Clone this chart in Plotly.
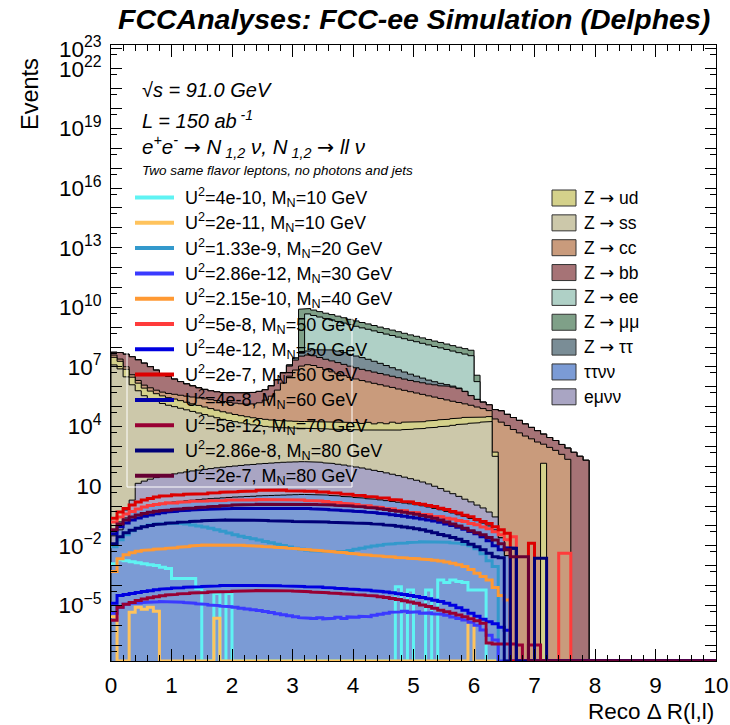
import numpy as np
import plotly.graph_objects as go

# ---------------------------------------------------------------------------
# Binning of Reco ΔR(l,l): 100 bins of width 0.1 between 0 and 10
# ---------------------------------------------------------------------------
N_BINS = 100
EDGES = np.round(np.linspace(0.0, 10.0, N_BINS + 1), 1)
Y_LOG_MIN, Y_LOG_MAX = -7.8, 23.2
FILL_FLOOR = 1e-12
FONT = "Liberation Sans, Arial, Helvetica, sans-serif"
ARROW = "<span style='font-family:DejaVu Sans'>→</span>"

# ---------------------------------------------------------------------------
# Background processes, log10(events) per bin (bins 0.0-8.0), None = empty
# ---------------------------------------------------------------------------
N = None
ttnn = [-1.9, -1.2, -0.6, -0.3, -0.15, -0.05, 0.02, 0.08, 0.13, 0.17,
        0.2, 0.23, 0.26, 0.29, 0.32, 0.35, 0.37, 0.39, 0.41, 0.43,
        0.45, 0.46, 0.48, 0.49, 0.51, 0.52, 0.53, 0.54, 0.55, 0.56,
        0.57, 0.58, 0.58, 0.58, 0.57, 0.55, 0.53, 0.51, 0.48, 0.46,
        0.43, 0.4, 0.37, 0.34, 0.31, 0.27, 0.23, 0.19, 0.15, 0.11,
        0.06, 0.01, -0.05, -0.12, -0.19, -0.27, -0.35, -0.44, -0.53, -0.63,
        -0.74, -0.86, -1.0, -1.2, -1.6, -2.5, N, N, N, N,
        N, N, N, N, N, N, N, N, N, N]
emnn = [-1.72, -1.02, -0.42, 0.17, 1.12, 1.23, 1.33, 1.41, 1.48, 1.54,
        1.6, 1.65, 1.7, 1.75, 1.79, 1.83, 1.87, 1.91, 1.94, 1.97,
        2.0, 2.03, 2.06, 2.08, 2.11, 2.13, 2.15, 2.17, 2.19, 2.2,
        2.21, 2.22, 2.22, 2.21, 2.19, 2.16, 2.13, 2.09, 2.05, 2.0,
        1.95, 1.9, 1.84, 1.78, 1.72, 1.65, 1.58, 1.51, 1.43, 1.35,
        1.27, 1.18, 1.08, 0.96, 0.84, 0.7, 0.57, 0.43, 0.28, 0.14,
        -0.03, -0.18, -0.4, -0.66, N, N, N, N, N, N,
        N, N, N, N, N, N, N, N, N, N]
zss = [7.1, 6.9, 6.5, 6.1, 5.8, 5.55, 5.4, 5.27, 5.16, 5.07,
       5.0, 4.92, 4.84, 4.76, 4.68, 4.6, 4.52, 4.44, 4.36, 4.3,
       4.24, 4.18, 4.13, 4.08, 4.04, 4.0, 3.97, 3.95, 3.93, 3.92,
       3.91, 3.9, 3.9, 3.89, 3.88, 3.87, 3.86, 3.85, 3.84, 3.83,
       3.83, 3.82, 3.82, 3.81, 3.81, 3.8, 3.81, 3.82, 3.84, 3.86,
       3.88, 3.9, 3.93, 3.96, 3.99, 4.02, 4.06, 4.1, 4.13, 4.16,
       4.19, 4.22, 4.25, 2.5, N, N, N, N, N, N,
       N, N, N, N, N, N, N, N, N, N]
zud = [7.25, 7.05, 6.65, 6.25, 5.95, 5.7, 5.55, 5.42, 5.31, 5.22,
       5.15, 5.07, 4.99, 4.91, 4.83, 4.75, 4.67, 4.59, 4.51, 4.44,
       4.36, 4.3, 4.24, 4.19, 4.15, 4.11, 4.07, 4.05, 4.03, 4.02,
       4.0, 3.99, 3.98, 3.97, 3.97, 3.96, 3.95, 3.94, 3.93, 3.92,
       3.95, 3.88, 3.98, 3.85, 3.95, 3.87, 4.0, 3.9, 3.98, 3.96,
       4.0, 3.98, 4.02, 4.06, 4.08, 4.1, 4.12, 4.15, 4.18, 4.2,
       4.1, 4.12, 4.14, 2.3, N, N, N, N, N, N,
       N, 2.15, N, N, N, N, N, N, N, N]
zcc = [6.95, 6.75, 6.4, 6.0, 5.75, 5.55, 5.45, 5.35, 5.28, 5.25,
       5.25, 5.24, 5.23, 5.22, 5.2, 5.18, 5.16, 5.13, 5.1, 5.07,
       5.04, 5.02, 5.01, 5.04, 5.12, 5.28, 5.5, 5.82, 6.18, 6.53,
       6.84, 7.04, 7.11, 7.07, 6.97, 6.86, 6.75, 6.65, 6.56, 6.47,
       6.39, 6.31, 6.24, 6.17, 6.1, 6.03, 5.96, 5.88, 5.81, 5.74,
       5.67, 5.6, 5.52, 5.45, 5.37, 5.29, 5.21, 5.13, 5.04, 4.94,
       4.83, 4.7, 4.5, 4.37, 4.22, 4.05, 3.85, 3.68, 3.52, 3.38,
       3.22, 3.06, 2.95, 2.8, 2.6, 2.35, N, N, N, N]
zbb = [7.17, 7.45, 7.52, 7.45, 7.31, 7.15, 6.97, 6.79, 6.61, 6.45,
       6.3, 6.16, 6.02, 5.9, 5.78, 5.69, 5.6, 5.55, 5.52, 5.52,
       5.53, 5.54, 5.55, 5.58, 5.63, 5.69, 5.88, 6.18, 6.53, 6.88,
       7.18, 7.38, 7.43, 7.39, 7.31, 7.23, 7.16, 7.08, 6.99, 6.9,
       6.82, 6.74, 6.67, 6.6, 6.53, 6.46, 6.39, 6.32, 6.25, 6.18,
       6.12, 6.07, 6.01, 5.98, 5.94, 5.93, 5.89, 5.81, 5.64, 5.38,
       5.13, 4.94, 4.78, 4.67, 4.65, 4.47, 4.33, 4.19, 4.0, 3.82,
       3.65, 3.45, 3.28, 3.13, 2.93, 2.77, 2.7, 2.5, 2.3, N]
ztautau = [N, N, N, N, N, N, N, N, N, N,
           N, N, N, N, N, N, N, N, N, N,
           N, N, N, N, N, 4.0, 4.4, 4.9, 5.5, 6.14,
           6.76, 7.16, 7.37, 7.56, 7.66, 7.72, 7.71, 7.66, 7.59, 7.5,
           7.42, 7.34, 7.25, 7.14, 7.02, 6.89, 6.76, 6.63, 6.49, 6.35,
           6.21, 6.06, 5.9, 5.73, 5.56, 5.33, 5.07, 4.75, 4.3, 3.9,
           3.5, 3.1, N, N, N, N, N, N, N, N,
           N, N, N, N, N, N, N, N, N, N]
zee = [N, N, N, N, N, N, N, N, N, N,
       N, N, N, N, N, N, N, N, N, N,
       N, N, N, N, N, N, N, N, N, N,
       N, 7.0, 9.66, 9.58, 9.5, 9.42, 9.35, 9.27, 9.19, 9.11,
       9.03, 8.95, 8.88, 8.8, 8.72, 8.64, 8.57, 8.49, 8.41, 8.33,
       8.26, 8.18, 8.1, 8.02, 7.95, 7.87, 7.79, 7.71, 7.64, 7.56,
       6.2, N, N, N, N, N, N, N, N, N,
       N, N, N, N, N, N, N, N, N, N]
zmumu = [N, N, N, N, N, N, N, N, N, N,
         N, N, N, N, N, N, N, N, N, N,
         N, N, N, N, N, N, N, N, N, N,
         N, 9.9, 9.61, 9.53, 9.45, 9.37, 9.3, 9.22, 9.14, 9.06,
         8.98, 8.9, 8.83, 8.75, 8.67, 8.59, 8.52, 8.44, 8.36, 8.28,
         8.21, 8.13, 8.05, 7.97, 7.9, 7.82, 7.74, 7.66, 7.59, 7.51,
         6.3, N, N, N, N, N, N, N, N, N,
         N, N, N, N, N, N, N, N, N, N]

# Stack order, bottom to top: (label, values, fill colour)
STACK = [
    ("ττνν", ttnn, "#7b9bd5"),
    ("eμνν", emnn, "#a9a5c3"),
    ("Z → ss", zss, "#ccc8aa"),
    ("Z → ud", zud, "#d4d18b"),
    ("Z → cc", zcc, "#c99b7c"),
    ("Z → bb", zbb, "#a67376"),
    ("Z → ττ", ztautau, "#7a8d96"),
    ("Z → ee", zee, "#afd0c6"),
    ("Z → μμ", zmumu, "#7fa088"),
]
BKG_LEGEND_ORDER = ["Z → ud", "Z → ss", "Z → cc", "Z → bb", "Z → ee",
                    "Z → μμ", "Z → ττ", "ττνν", "eμνν"]

# ---------------------------------------------------------------------------
# Heavy neutral lepton signals, log10(events) per bin (bins 0.0-8.0)
# ---------------------------------------------------------------------------
sig_4e10_m10 = [-2.9, -2.7, -2.75, -2.8, -2.85, -2.9, -2.95, -3.0, -3.08, -3.15,
                -3.65, -3.65, -3.62, -3.65, -4.15, N, N, -4.4, N, -4.4,
                N, N, N, N, N, N, N, N, N, N,
                N, N, N, N, N, N, N, N, N, N,
                N, N, N, N, N, N, N, -4.06, N, -4.23,
                N, N, -4.23, N, -3.72, -3.85, -3.72, -3.8, -3.85, -4.23,
                -4.23, -4.23, N, N, N, N, N, N, N, N,
                N, N, N, N, N, N, N, N, N, N]
sig_2e11_m10 = [-5.57, N, N, -5.35, -5.1, -5.2, -5.1, -5.3, N, N,
                N, N, N, N, N, N, N, -5.65, N, N,
                N, N, N, N, N, N, N, N, N, N,
                N, N, N, N, N, N, N, N, N, N,
                N, N, N, N, N, N, N, N, N, N,
                N, N, N, N, N, N, N, N, N, -5.65,
                N, N, N, N, N, N, N, N, N, N,
                N, N, N, N, N, N, N, N, N, N]
sig_133e9_m20 = [-2.05, -1.7, -1.45, -1.25, -1.12, -1.03, -0.96, -0.92, -0.89, -0.87,
                 -0.87, -0.88, -0.91, -0.95, -1.0, -1.06, -1.12, -1.19, -1.27, -1.36,
                 -1.45, -1.52, -1.59, -1.65, -1.71, -1.78, -1.85, -1.92, -1.99, -2.06,
                 -2.12, -2.17, -2.21, -2.25, -2.27, -2.29, -2.3, -2.3, -2.28, -2.24,
                 -2.18, -2.12, -2.06, -2.01, -1.97, -1.93, -1.9, -1.88, -1.86, -1.84,
                 -1.82, -1.8, -1.79, -1.79, -1.8, -1.82, -1.85, -1.88, -1.93, -2.0,
                 -2.15, -2.4, -2.75, -3.05, N, N, N, N, N, N,
                 N, N, N, N, N, N, N, N, N, N]
sig_286e12_m30 = [-5.4, -5.1, -4.95, -4.9, -4.88, -4.85, -4.83, -4.82, -4.81, -4.81,
                  -4.82, -4.84, -4.86, -4.89, -4.92, -4.95, -4.98, -5.01, -5.04, -5.07,
                  -5.1, -5.14, -5.18, -5.22, -5.26, -5.31, -5.36, -5.42, -5.47, -5.52,
                  -5.57, -5.62, -5.65, -5.66, -5.62, -5.68, -5.65, -5.6, -5.66, -5.58,
                  -5.6, -5.55, -5.57, -5.5, -5.45, -5.4, -5.35, -5.33, -5.3, -5.35,
                  -5.32, -5.4, -5.38, -5.42, -5.45, -5.5, -5.58, -5.66, -5.74, -5.85,
                  -6.0, -6.24, -6.5, -6.74, N, N, N, N, N, N,
                  N, N, N, N, N, N, N, N, N, N]
sig_215e10_m40 = [-3.3, -2.65, -2.45, -2.35, -2.28, -2.23, -2.2, -2.17, -2.15, -2.13,
                  -2.1, -2.07, -2.04, -2.01, -1.98, -1.96, -1.96, -1.95, -1.95, -1.96,
                  -1.96, -1.97, -1.99, -2.0, -2.02, -2.04, -2.06, -2.08, -2.1, -2.12,
                  -2.15, -2.17, -2.2, -2.22, -2.25, -2.27, -2.3, -2.32, -2.35, -2.38,
                  -2.41, -2.44, -2.47, -2.49, -2.52, -2.54, -2.56, -2.59, -2.61, -2.63,
                  -2.65, -2.67, -2.7, -2.73, -2.77, -2.82, -2.88, -2.95, -3.05, -3.2,
                  -3.38, -3.55, -3.72, -4.1, -4.5, -4.73, N, N, N, N,
                  N, N, N, N, N, N, N, N, N, N]
sig_5e8_m50 = [-0.8, -0.55, -0.4, -0.28, -0.15, -0.05, 0.02, 0.07, 0.11, 0.16,
               0.15, 0.19, 0.21, 0.24, 0.22, 0.25, 0.27, 0.26, 0.28, 0.3,
               0.29, 0.31, 0.32, 0.3, 0.33, 0.33, 0.31, 0.32, 0.33, 0.3,
               0.31, 0.3, 0.28, 0.28, 0.25, 0.23, 0.19, 0.18, 0.14, 0.11,
               0.08, 0.03, 0.01, -0.04, -0.07, -0.13, -0.15, -0.21, -0.24, -0.31,
               -0.34, -0.41, -0.44, -0.51, -0.54, -0.61, -0.65, -0.73, -0.78, -0.88,
               -0.94, -1.06, -1.14, -1.3, -1.45, -1.7, -1.55, N, N, N,
               N, N, N, N, -2.38, -2.38, N, N, N, N]
sig_4e12_m50 = [-4.9, -4.5, -4.45, -4.4, -4.35, -4.3, -4.26, -4.22, -4.18, -4.15,
                -4.13, -4.11, -4.09, -4.07, -4.06, -4.05, -4.03, -4.02, -4.0, -3.99,
                -3.98, -3.98, -3.98, -3.99, -3.99, -4.0, -4.0, -4.01, -4.02, -4.03,
                -4.04, -4.05, -4.06, -4.07, -4.08, -4.1, -4.12, -4.14, -4.16, -4.18,
                -4.2, -4.22, -4.24, -4.27, -4.3, -4.33, -4.37, -4.41, -4.45, -4.5,
                -4.55, -4.61, -4.67, -4.74, -4.81, -4.9, -5.0, -5.12, -5.25, -5.4,
                -5.55, -5.7, -5.82, -5.92, -6.1, -6.25, N, N, N, N,
                N, N, N, N, N, N, N, N, N, N]
sig_2e7_m60 = [-0.62, -0.3, -0.12, 0.05, 0.2, 0.3, 0.38, 0.45, 0.5, 0.51,
               0.56, 0.55, 0.59, 0.6, 0.62, 0.62, 0.65, 0.66, 0.69, 0.69,
               0.72, 0.73, 0.75, 0.75, 0.79, 0.8, 0.81, 0.79, 0.8, 0.77,
               0.78, 0.76, 0.74, 0.74, 0.7, 0.7, 0.66, 0.65, 0.6, 0.59,
               0.54, 0.53, 0.48, 0.46, 0.41, 0.4, 0.33, 0.3, 0.23, 0.2,
               0.13, 0.09, 0.02, -0.02, -0.11, -0.17, -0.28, -0.35, -0.46, -0.54,
               -0.68, -0.78, -0.88, -1.04, -1.2, -1.37, N, N, N, -1.88,
               N, N, N, N, N, N, N, N, N, N]
sig_4e8_m60 = [-1.4, -1.05, -0.85, -0.7, -0.6, -0.52, -0.45, -0.39, -0.34, -0.3,
               -0.27, -0.24, -0.22, -0.2, -0.18, -0.17, -0.16, -0.15, -0.14, -0.13,
               -0.12, -0.12, -0.11, -0.11, -0.1, -0.1, -0.1, -0.11, -0.11, -0.12,
               -0.12, -0.12, -0.13, -0.14, -0.15, -0.17, -0.19, -0.21, -0.23, -0.25,
               -0.27, -0.29, -0.31, -0.34, -0.37, -0.4, -0.44, -0.48, -0.52, -0.56,
               -0.6, -0.65, -0.7, -0.76, -0.82, -0.9, -0.98, -1.07, -1.17, -1.28,
               -1.4, -1.55, -1.75, -2.0, -2.2, -2.1, -2.13, N, N, N,
               N, N, N, N, N, N, N, N, N, N]
sig_5e12_m70 = [-5.75, -5.1, -4.95, -4.85, -4.76, -4.68, -4.62, -4.57, -4.52, -4.48,
                -4.45, -4.42, -4.4, -4.38, -4.36, -4.35, -4.33, -4.32, -4.31, -4.3,
                -4.29, -4.28, -4.27, -4.26, -4.25, -4.24, -4.24, -4.25, -4.26, -4.27,
                -4.28, -4.3, -4.31, -4.33, -4.34, -4.36, -4.38, -4.4, -4.42, -4.44,
                -4.46, -4.48, -4.5, -4.53, -4.57, -4.61, -4.66, -4.71, -4.77, -4.83,
                -4.9, -4.98, -5.06, -5.15, -5.24, -5.32, -5.4, -5.48, -5.57, -5.67,
                -5.78, -5.9, -6.9, -6.94, -6.94, -6.94, -6.94, -7.0, N, -7.0,
                -7.0, N, N, N, N, N, N, N, N, N]
sig_286e8_m80 = [-1.9, -1.55, -1.35, -1.22, -1.12, -1.04, -0.98, -0.93, -0.9, -0.87,
                 -0.84, -0.82, -0.8, -0.78, -0.76, -0.74, -0.73, -0.72, -0.71, -0.7,
                 -0.7, -0.7, -0.71, -0.72, -0.72, -0.73, -0.74, -0.75, -0.76, -0.77,
                 -0.78, -0.79, -0.79, -0.8, -0.8, -0.81, -0.82, -0.83, -0.84, -0.85,
                 -0.86, -0.87, -0.88, -0.9, -0.92, -0.95, -0.98, -1.02, -1.06, -1.1,
                 -1.15, -1.2, -1.27, -1.35, -1.43, -1.5, -1.58, -1.67, -1.79, -1.92,
                 -2.05, -2.2, -2.38, -2.55, -2.6, N, -2.13, N, N, N,
                 -2.63, -2.63, N, N, N, N, N, N, N, N]
sig_2e7_m80 = [-1.2, -0.9, -0.7, -0.55, -0.45, -0.38, -0.32, -0.27, -0.23, -0.2,
               -0.17, -0.14, -0.12, -0.1, -0.07, -0.05, -0.03, -0.01, 0.01, 0.03,
               0.05, 0.06, 0.07, 0.08, 0.09, 0.1, 0.1, 0.11, 0.1, 0.1,
               0.1, 0.1, 0.09, 0.08, 0.07, 0.06, 0.05, 0.03, 0.02, 0.0,
               -0.02, -0.04, -0.07, -0.1, -0.14, -0.18, -0.22, -0.27, -0.32, -0.37,
               -0.42, -0.48, -0.54, -0.62, -0.7, -0.8, -0.9, -1.0, -1.12, -1.25,
               -1.35, -1.45, -1.58, -1.71, -1.9, -2.2, -2.55, -2.55, -2.55, N,
               N, N, N, N, N, N, N, N, N, N]

# Drawing order = legend order: (label, values, line colour)
SIGNALS = [
    ("U<sup>2</sup>=4e-10, M<sub>N</sub>=10 GeV", sig_4e10_m10, "#5ff3f3"),
    ("U<sup>2</sup>=2e-11, M<sub>N</sub>=10 GeV", sig_2e11_m10, "#ffc35c"),
    ("U<sup>2</sup>=1.33e-9, M<sub>N</sub>=20 GeV", sig_133e9_m20, "#3399cc"),
    ("U<sup>2</sup>=2.86e-12, M<sub>N</sub>=30 GeV", sig_286e12_m30, "#3a3aff"),
    ("U<sup>2</sup>=2.15e-10, M<sub>N</sub>=40 GeV", sig_215e10_m40, "#ff9933"),
    ("U<sup>2</sup>=5e-8, M<sub>N</sub>=50 GeV", sig_5e8_m50, "#ff3b3b"),
    ("U<sup>2</sup>=4e-12, M<sub>N</sub>=50 GeV", sig_4e12_m50, "#0000e0"),
    ("U<sup>2</sup>=2e-7, M<sub>N</sub>=60 GeV", sig_2e7_m60, "#dd0000"),
    ("U<sup>2</sup>=4e-8, M<sub>N</sub>=60 GeV", sig_4e8_m60, "#0000aa"),
    ("U<sup>2</sup>=5e-12, M<sub>N</sub>=70 GeV", sig_5e12_m70, "#990033"),
    ("U<sup>2</sup>=2.86e-8, M<sub>N</sub>=80 GeV", sig_286e8_m80, "#000077"),
    ("U<sup>2</sup>=2e-7, M<sub>N</sub>=80 GeV", sig_2e7_m80, "#660033"),
]

Y_LABELED = [-5, -2, 1, 4, 7, 10, 13, 16, 19, 22, 23]


def to_events(log_vals):
    """Bin contents from log10 values; missing bins are empty."""
    out = np.zeros(N_BINS)
    for i, v in enumerate(log_vals):
        if v is not None:
            out[i] = 10.0 ** v
    return out


def step_path(contents):
    xs, ys = [], []
    for i, v in enumerate(contents):
        xs += [EDGES[i], EDGES[i + 1]]
        ys += [v, v]
    return xs, ys


fig = go.Figure()

# Stacked backgrounds: cumulative histograms filled from the bottom,
# drawn from the top of the stack downwards
cumulative = np.cumsum([to_events(vals) for _, vals, _ in STACK], axis=0)
for k in reversed(range(len(STACK))):
    top = np.where(cumulative[k] > 0, cumulative[k], FILL_FLOOR)
    xs, ys = step_path(top)
    xs = [EDGES[0]] + xs + [EDGES[-1]]
    ys = [FILL_FLOOR] + ys + [FILL_FLOOR]
    fig.add_trace(go.Scatter(
        x=xs, y=ys, mode="lines", fill="toself", fillcolor=STACK[k][2],
        line=dict(color="black", width=1), hoverinfo="skip", showlegend=False))

# Signal histograms as thick outlines; empty bins sit on the frame bottom
y_bottom = 10.0 ** Y_LOG_MIN
for label, vals, color in SIGNALS:
    contents = to_events(vals)
    contents = np.where(contents > 0, contents, y_bottom)
    xs, ys = step_path(contents)
    fig.add_trace(go.Scatter(
        x=xs, y=ys, mode="lines", line=dict(color=color, width=3),
        hoverinfo="skip", showlegend=False))

# ---------------------------------------------------------------------------
# Layout geometry (pixels)
# ---------------------------------------------------------------------------
W, H = 730, 725
ML, MR, MT, MB = 111, 14, 45, 64
PW, PH = W - ML - MR, H - MT - MB


def px_x(px):
    return (px - ML) / PW


def px_y(py):
    return (H - MB - py) / PH


annotations = []
shapes = []

# Title
annotations.append(dict(
    text="<b><i>FCCAnalyses: FCC-ee Simulation (Delphes)</i></b>",
    x=0.5, y=px_y(19), xref="paper", yref="paper", xanchor="center",
    yanchor="middle", showarrow=False, font=dict(size=28.5, family=FONT)))

# Axis titles
annotations.append(dict(
    text="Events", x=px_x(30), y=px_y(94), xref="paper", yref="paper",
    xanchor="center", yanchor="middle", textangle=-90, showarrow=False,
    font=dict(size=23.5, family=FONT)))
annotations.append(dict(
    text="Reco Δ R(l,l)", x=1.0, y=px_y(711), xref="paper", yref="paper",
    xanchor="right", yanchor="middle", showarrow=False,
    font=dict(size=22.5, family=FONT)))

# Analysis labels
info = [
    ("<i>√s = 91.0 GeV</i>", 90, 20),
    ("<i>L = 150 ab<sup> -1</sup></i>", 120, 20),
    ("<i>e<sup>+</sup>e<sup>-</sup> " + ARROW + " N<sub> 1,2</sub> ν, N<sub> 1,2</sub> "
     + ARROW + " ll ν</i>", 146, 20.5),
    ("<i>Two same flavor leptons, no photons and jets</i>", 170, 13.5),
]
for text, ypx, size in info:
    annotations.append(dict(
        text=text, x=px_x(140), y=px_y(ypx), xref="paper", yref="paper",
        xanchor="left", yanchor="middle", showarrow=False,
        font=dict(size=size, family=FONT)))

# Signal legend
for k, (label, _, color) in enumerate(SIGNALS):
    yc = 197.5 + 25.3 * k
    shapes.append(dict(type="line", xref="paper", yref="paper",
                       x0=px_x(135), x1=px_x(174), y0=px_y(yc), y1=px_y(yc),
                       line=dict(color=color, width=4), layer="above"))
    annotations.append(dict(
        text=label, x=px_x(183), y=px_y(yc), xref="paper", yref="paper",
        xanchor="left", yanchor="middle", showarrow=False,
        font=dict(size=18, family=FONT)))
shapes.append(dict(type="rect", xref="paper", yref="paper",
                   x0=px_x(127), x1=px_x(352), y0=px_y(487), y1=px_y(182),
                   line=dict(color="white", width=1), fillcolor="rgba(0,0,0,0)",
                   layer="above"))

# Background legend
stack_colors = {name: color for name, _, color in STACK}
for k, name in enumerate(BKG_LEGEND_ORDER):
    yc = 198 + 24.85 * k
    shapes.append(dict(type="rect", xref="paper", yref="paper",
                       x0=px_x(552), x1=px_x(576), y0=px_y(yc + 8), y1=px_y(yc - 8),
                       line=dict(color="#333333", width=1),
                       fillcolor=stack_colors[name], layer="above"))
    annotations.append(dict(
        text=name.replace("→", ARROW), x=px_x(582), y=px_y(yc),
        xref="paper", yref="paper",
        xanchor="left", yanchor="middle", showarrow=False,
        font=dict(size=17.5, family=FONT)))

y_tickvals = [10.0 ** k for k in range(-7, 24)]
y_ticktext = []
for k in range(-7, 24):
    if k not in Y_LABELED:
        y_ticktext.append("")
    elif k == 1:
        y_ticktext.append("10")
    else:
        y_ticktext.append("10<sup>%d</sup>" % k if k >= 0 else "10<sup>−%d</sup>" % -k)

fig.update_layout(
    width=W, height=H, autosize=False,
    margin=dict(l=ML, r=MR, t=MT, b=MB, pad=0, autoexpand=False),
    paper_bgcolor="white", plot_bgcolor="white",
    font=dict(family=FONT, color="black"),
    showlegend=False,
    annotations=annotations, shapes=shapes,
    xaxis=dict(
        range=[0, 10], showgrid=False, zeroline=False, automargin=False,
        showline=True, linecolor="black", linewidth=1, mirror="ticks",
        ticks="inside", ticklen=12, tickwidth=1, tickcolor="black",
        tickmode="array", tickvals=list(range(11)),
        ticktext=[str(v) for v in range(11)],
        tickfont=dict(size=22.5, family=FONT), ticklabelstandoff=4,
        minor=dict(ticks="inside", ticklen=6, tickwidth=1, tickcolor="black",
                   dtick=0.2, tick0=0, showgrid=False),
    ),
    yaxis=dict(
        type="log", range=[Y_LOG_MIN, Y_LOG_MAX], showgrid=False, zeroline=False,
        automargin=False,
        showline=True, linecolor="black", linewidth=1, mirror="ticks",
        ticks="inside", ticklen=11, tickwidth=1, tickcolor="black",
        tickmode="array", tickvals=y_tickvals, ticktext=y_ticktext,
        tickfont=dict(size=22.5, family=FONT), ticklabelstandoff=4,
        minor=dict(ticks="inside", ticklen=6, tickwidth=1, tickcolor="black",
                   tickvals=[5.0 * 10.0 ** k for k in range(-8, 23)],
                   showgrid=False),
    ),
)

fig.write_html("out.html")
